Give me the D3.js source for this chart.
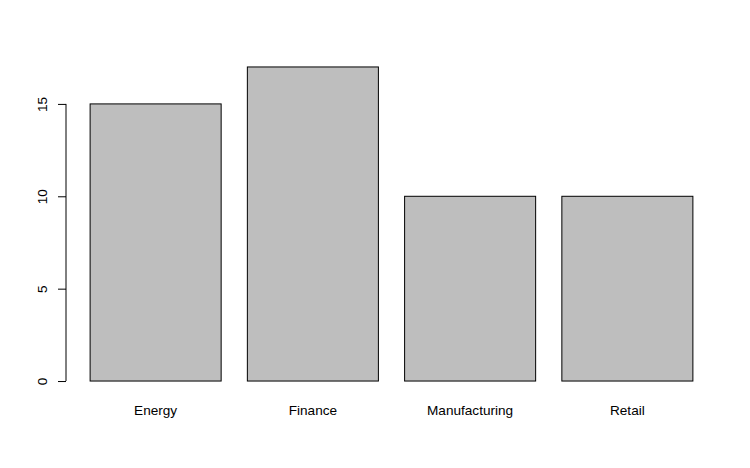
<!DOCTYPE html>
<html>
<head>
<meta charset="utf-8">
<title>Bar chart</title>
<script src="https://d3js.org/d3.v7.min.js"></script>
<style>
  body { margin: 0; background: #fff; }
  text { font-family: "Liberation Sans", Arial, sans-serif; font-size: 13.6px; fill: #000; }
</style>
</head>
<body>
<div id="chart"></div>
<script>
const width = 750;
const height = 468;

const categories = ["Energy", "Finance", "Manufacturing", "Retail"];
const counts = [15, 17, 10, 10];
const yTicks = [0, 5, 10, 15];

// plot region, like R's default barplot margins
const plot = { left: 66, right: 717, top: 54.4, bottom: 393.6 };

const svg = d3.select("#chart").append("svg")
  .attr("width", width)
  .attr("height", height);

// R barplot: width 1, space 0.2, xlim extended by 4%
const n = categories.length;
const xMin = 0.2, xMax = 0.2 + n * 1.2 - 0.2;
const xPad = (xMax - xMin) * 0.04;
const x = d3.scaleLinear()
  .domain([xMin - xPad, xMax + xPad])
  .range([plot.left, plot.right]);

const yMaxV = d3.max(counts);
const yPad = yMaxV * 0.04;
const y = d3.scaleLinear()
  .domain([-yPad, yMaxV + yPad])
  .range([plot.bottom, plot.top]);

svg.append("g")
  .selectAll("rect")
  .data(counts)
  .enter()
  .append("rect")
  .attr("x", (d, i) => x(0.2 + i * 1.2))
  .attr("width", (d, i) => x(1.2 + i * 1.2) - x(0.2 + i * 1.2))
  .attr("y", d => y(d))
  .attr("height", d => y(0) - y(d))
  .attr("fill", "#bebebe")
  .attr("stroke", "#000")
  .attr("stroke-width", 1);

// category labels
svg.append("g")
  .selectAll("text")
  .data(categories)
  .enter()
  .append("text")
  .attr("x", (d, i) => x(0.7 + i * 1.2))
  .attr("y", 415)
  .attr("text-anchor", "middle")
  .text(d => d);

// y axis
const yAxis = d3.axisLeft(y)
  .tickValues(yTicks)
  .tickSize(8)
  .tickPadding(12)
  .tickSizeOuter(0);

const gy = svg.append("g")
  .attr("transform", `translate(${plot.left},0)`)
  .call(yAxis);

gy.select(".domain")
  .attr("d", `M0,${y(yTicks[0])}V${y(yTicks[yTicks.length - 1])}`)
  .attr("stroke", "#000");
gy.selectAll(".tick line").attr("stroke", "#000");
gy.selectAll(".tick text")
  .attr("x", 0)
  .attr("dy", 0)
  .attr("text-anchor", "middle")
  .attr("transform", "translate(-19,0) rotate(-90)")
  .style("font-size", "13.6px")
  .style("font-family", "Liberation Sans, Arial, sans-serif");
</script>
</body>
</html>
